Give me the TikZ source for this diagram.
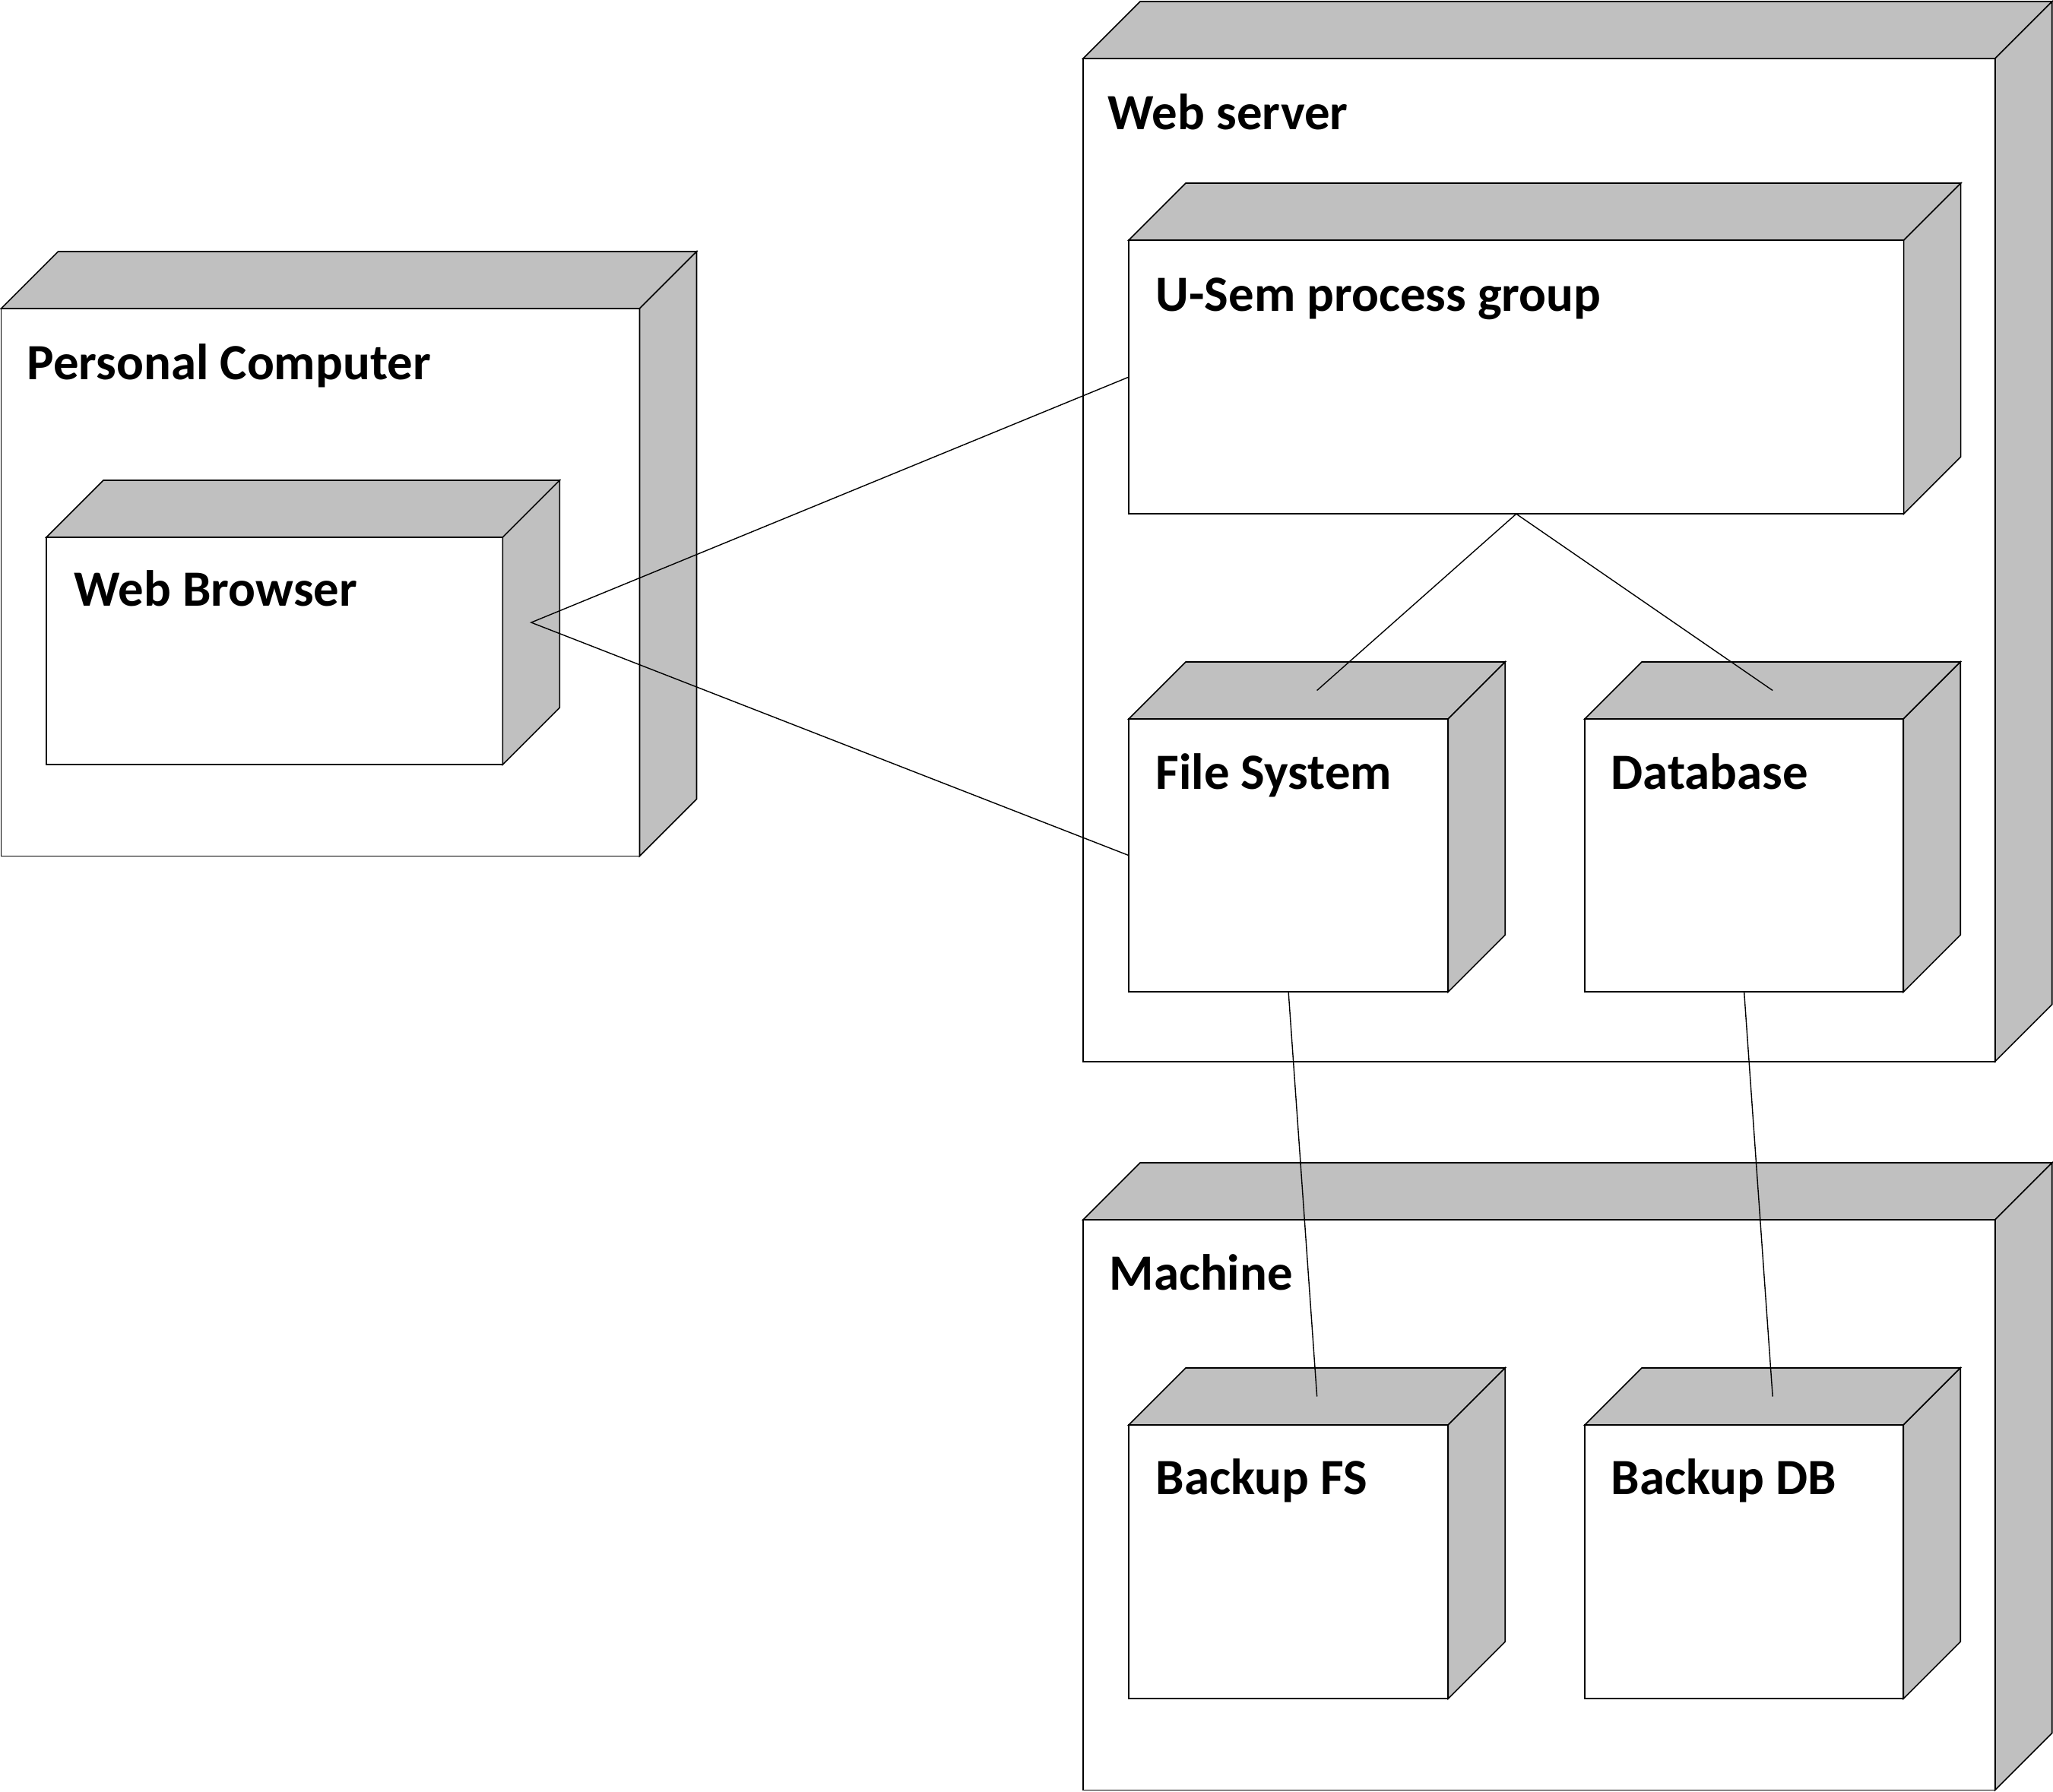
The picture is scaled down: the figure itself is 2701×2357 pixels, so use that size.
\documentclass[tikz,border=0pt]{standalone}
\usepackage{fontspec}
\setmainfont{Carlito}
\usetikzlibrary{calc}
\definecolor{facegray}{RGB}{192,192,192}
\tikzset{
  front/.style={draw=black, fill=white, line width=0.45pt, inner sep=0pt, outer sep=0pt, rectangle},
  face/.style={draw=black, fill=facegray, line width=0.45pt, line join=miter},
  lbl/.style={anchor=base west, inner sep=0pt, font=\fontsize{19}{23}\selectfont\bfseries},
  conn/.style={draw=black, line width=0.4pt}
}
% #1 name, #2 x left, #3 y top of front face, #4 width (cm), #5 height (cm)
\newcommand\depnode[5]{%
  \node[front, minimum width=#4, minimum height=#5, anchor=north west] (#1) at (#2,#3) {};
  \path[face] (#1.north west) -- ++(75,-75) -- ($(#1.north east)+(75,-75)$) -- (#1.north east) -- cycle;
  \path[face] (#1.north east) -- ($(#1.north east)+(75,-75)$) -- ($(#1.south east)+(75,-75)$) -- (#1.south east) -- cycle;
  \draw[line width=0.45pt] (#1.north west) rectangle (#1.south east);
  \coordinate (#1-top) at ($(#1.north)+(37.5,-37.5)$);
  \coordinate (#1-side) at ($(#1.east)+(37.5,-37.5)$);
}
\begin{document}
\begin{tikzpicture}[x=0.01cm, y=-0.01cm]
\useasboundingbox (0,0) rectangle (2701,2357);
% outer nodes
\depnode{pc}{1.5}{406}{8.395cm}{7.20cm}
\node[lbl] (pclabel) at (35,499) {Personal Computer};
\depnode{ws}{1425}{77}{11.99cm}{13.19cm}
\node[lbl] (wslabel) at (1457,170) {Web server};
\depnode{mc}{1425}{1605}{11.99cm}{7.50cm}
\node[lbl] (mclabel) at (1459,1697) {Machine};
% inner nodes
\depnode{wb}{61}{707}{6.00cm}{2.99cm}
\node[lbl] (wblabel) at (97,797) {Web Browser};
\depnode{us}{1485}{316}{10.19cm}{3.60cm}
\node[lbl] (uslabel) at (1520,409) {U-Sem process group};
\depnode{fs}{1485}{946}{4.20cm}{3.59cm}
\node[lbl] (fslabel) at (1520,1038) {File System};
\depnode{db}{2085}{946}{4.19cm}{3.59cm}
\node[lbl] (dblabel) at (2119,1038) {Database};
\depnode{bf}{1485}{1875}{4.20cm}{3.60cm}
\node[lbl] (bflabel) at (1520,1966) {Backup FS};
\depnode{bd}{2085}{1875}{4.19cm}{3.60cm}
\node[lbl] (bdlabel) at (2119,1966) {Backup DB};
% connectors
\draw[conn] (us.west) -- (wb-side) -- (fs.west);
\draw[conn] (us.south) -- (fs-top);
\draw[conn] (us.south) -- (db-top);
\draw[conn] (fs.south) -- (bf-top);
\draw[conn] (db.south) -- (bd-top);
\end{tikzpicture}
\end{document}
